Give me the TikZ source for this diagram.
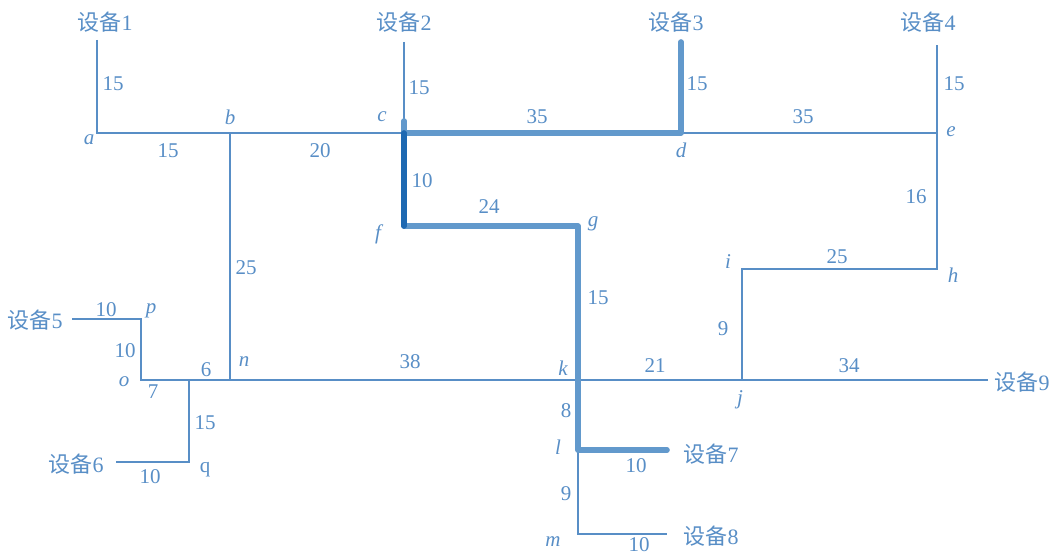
\documentclass[tikz,border=0pt]{standalone}
\usepackage{fontspec}
\setmainfont{Liberation Serif}
\newfontfamily\cjk{Noto Sans CJK SC}
\usetikzlibrary{positioning}
\definecolor{netblue}{RGB}{88,142,198}
\definecolor{pathblue}{RGB}{98,153,204}
\definecolor{deepblue}{RGB}{30,105,178}
\newcommand{\dev}[1]{{\cjk 设备}#1}

\begin{document}
\begin{tikzpicture}[
  x=0.5pt, y=-0.5pt,
  every node/.style={font=\fontsize{10.5}{12}\selectfont, text=netblue, inner sep=1pt},
  devlabel/.style={font=\fontsize{11}{12}\selectfont},
  vtx/.style={font=\fontsize{10.5}{12}\selectfont\itshape},
  wire/.style={draw=netblue, line width=0.6pt},
  route/.style={draw=pathblue, line width=2.8pt, line cap=round, line join=round},
  hop/.style={draw=deepblue, line width=2.8pt, line cap=round}
]
\useasboundingbox (0,0) rectangle (1054,556);

% junctions
\coordinate (a) at (97,133);
\coordinate (b) at (230,133);
\coordinate (c) at (404,133);
\coordinate (d) at (681,133);
\coordinate (e) at (937,133);
\coordinate (f) at (404,226);
\coordinate (g) at (578,226);
\coordinate (h) at (937,269);
\coordinate (i) at (742,269);
\coordinate (n) at (230,380);
\coordinate (k) at (578,380);
\coordinate (j) at (742,380);
\coordinate (o) at (141,380);
\coordinate (p) at (141,319);
\coordinate (r) at (189,380);
\coordinate (q) at (189,462);
\coordinate (l) at (578,450);
\coordinate (m) at (578,534);
\coordinate (cup) at (404,121);

% device ends
\coordinate (end1) at (97,40);
\coordinate (end2) at (404,42);
\coordinate (end3) at (681,42);
\coordinate (end4) at (937,45);
\coordinate (end5) at (72,319);
\coordinate (end6) at (116,462);
\coordinate (end7) at (667,450);
\coordinate (end8) at (667,534);
\coordinate (end9) at (988,380);

% device labels
\node[devlabel] (dev1) at (105,22) {\dev{1}};
\node[devlabel] (dev2) at (404,22) {\dev{2}};
\node[devlabel] (dev3) at (676,22) {\dev{3}};
\node[devlabel] (dev4) at (928,22) {\dev{4}};
\node[devlabel] (dev5) at (35,320) {\dev{5}};
\node[devlabel] (dev6) at (76,464) {\dev{6}};
\node[devlabel] (dev7) at (711,454) {\dev{7}};
\node[devlabel] (dev8) at (711,536) {\dev{8}};
\node[devlabel] (dev9) at (1022,382) {\dev{9}};

% vertex names
\node[vtx] (la) at (89,140) {a};
\node[vtx] (lb) at (230,117) {b};
\node[vtx] (lc) at (382,117) {c};
\node[vtx] (ld) at (681,150) {d};
\node[vtx] (le) at (951,132) {e};
\node[vtx] (lf) at (378,234) {f};
\node[vtx] (lg) at (593,224) {g};
\node[vtx] (lh) at (953,275) {h};
\node[vtx] (li) at (728,262) {i};
\node[vtx] (lj) at (740,400) {j};
\node[vtx] (lk) at (563,368) {k};
\node[vtx] (ll) at (558,447) {l};
\node[vtx] (lm) at (553,542) {m};
\node[vtx] (ln) at (244,362) {n};
\node[vtx] (lo) at (124,382) {o};
\node[vtx] (lp) at (151,311) {p};
\node (lq) at (205,470) {q};

% network
\draw[wire] (end1) -- (a) -- (e) -- (end4);
\draw[wire] (end2) -- (c);
\draw[wire] (e) -- (h) -- (i) -- (j);
\draw[wire] (b) -- (n);
\draw[wire] (end5) -- (p) -- (o) -- (end9);
\draw[wire] (r) -- (q) -- (end6);
\draw[wire] (l) -- (m) -- (end8);

% shortest route
\draw[route] (end3) -- (d) -- (c) -- (cup);
\draw[route] (f) -- (g) -- (k) -- (l) -- (end7);
\draw[hop] (c) -- (f);

% weights
\node (w1) at (113,84) {15};
\node (w2) at (419,88) {15};
\node (w3) at (697,84) {15};
\node (w4) at (954,84) {15};
\node (wab) at (168,151) {15};
\node (wbc) at (320,151) {20};
\node (wcd) at (537,117) {35};
\node (wde) at (803,117) {35};
\node (wcf) at (422,181) {10};
\node (wfg) at (489,207) {24};
\node (weh) at (916,197) {16};
\node (whi) at (837,257) {25};
\node (wbn) at (246,268) {25};
\node (wgk) at (598,298) {15};
\node (wij) at (723,329) {9};
\node (w5) at (106,310) {10};
\node (wpo) at (125,351) {10};
\node (wrn) at (206,370) {6};
\node (wor) at (153,392) {7};
\node (wrq) at (205,423) {15};
\node (w6) at (150,477) {10};
\node (wnk) at (410,362) {38};
\node (wkj) at (655,366) {21};
\node (w9) at (849,366) {34};
\node (wkl) at (566,411) {8};
\node (w7) at (636,466) {10};
\node (wlm) at (566,494) {9};
\node (w8) at (639,545) {10};
\end{tikzpicture}
\end{document}
